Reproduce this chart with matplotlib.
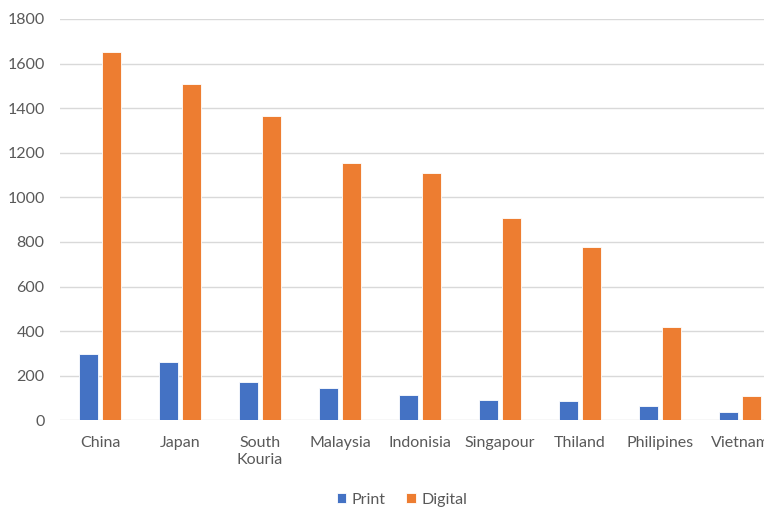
import numpy as np
import matplotlib
matplotlib.use("Agg")
import matplotlib.pyplot as plt

countries = ["China", "Japan", "South\nKouria", "Malaysia", "Indonisia",
             "Singapour", "Thiland", "Philipines", "Vietnam"]
print_vals = [298, 263, 173, 144, 115, 90, 88, 66, 39]
digital_vals = [1650, 1508, 1367, 1156, 1109, 907, 779, 417, 108]

plt.rcParams['font.family'] = ['Lato', 'DejaVu Sans']

fig = plt.figure(figsize=(7.64, 5.08), dpi=100)
# plot area runs past the right edge, as in the reference
ax = fig.add_axes([60 / 764, 1 - 420.3 / 508, 720 / 764, 401.3 / 508])

x = np.arange(len(countries))
w = 0.23
ax.bar(x - 0.143, print_vals, w, color="#4472C4", edgecolor="white", linewidth=0.6,
       label="Print", zorder=3)
ax.bar(x + 0.143, digital_vals, w, color="#ED7D31", edgecolor="white", linewidth=0.6,
       label="Digital", zorder=3)

ax.set_xlim(-0.5, len(countries) - 0.5)
ax.set_ylim(0, 1800)
ax.set_yticks(np.arange(0, 1801, 200))
ax.set_xticks(x)
ax.set_xticklabels(countries, linespacing=1.35)
ax.grid(axis="y", color="#D9D9D9", linewidth=1, zorder=0)
for s in ax.spines.values():
    s.set_visible(False)
ax.tick_params(axis="both", length=0, colors="#595959", labelsize=11.5)
ax.tick_params(axis="y", pad=11)
ax.tick_params(axis="x", pad=11)

ax.legend(loc="center", bbox_to_anchor=(402 / 764, 1 - 500 / 508),
          bbox_transform=fig.transFigure, ncol=2, frameon=False,
          fontsize=11.5, labelcolor="#595959", handlelength=0.6, handleheight=0.6,
          handletextpad=0.35, columnspacing=1.3)

fig.savefig("out.png", dpi=100)
